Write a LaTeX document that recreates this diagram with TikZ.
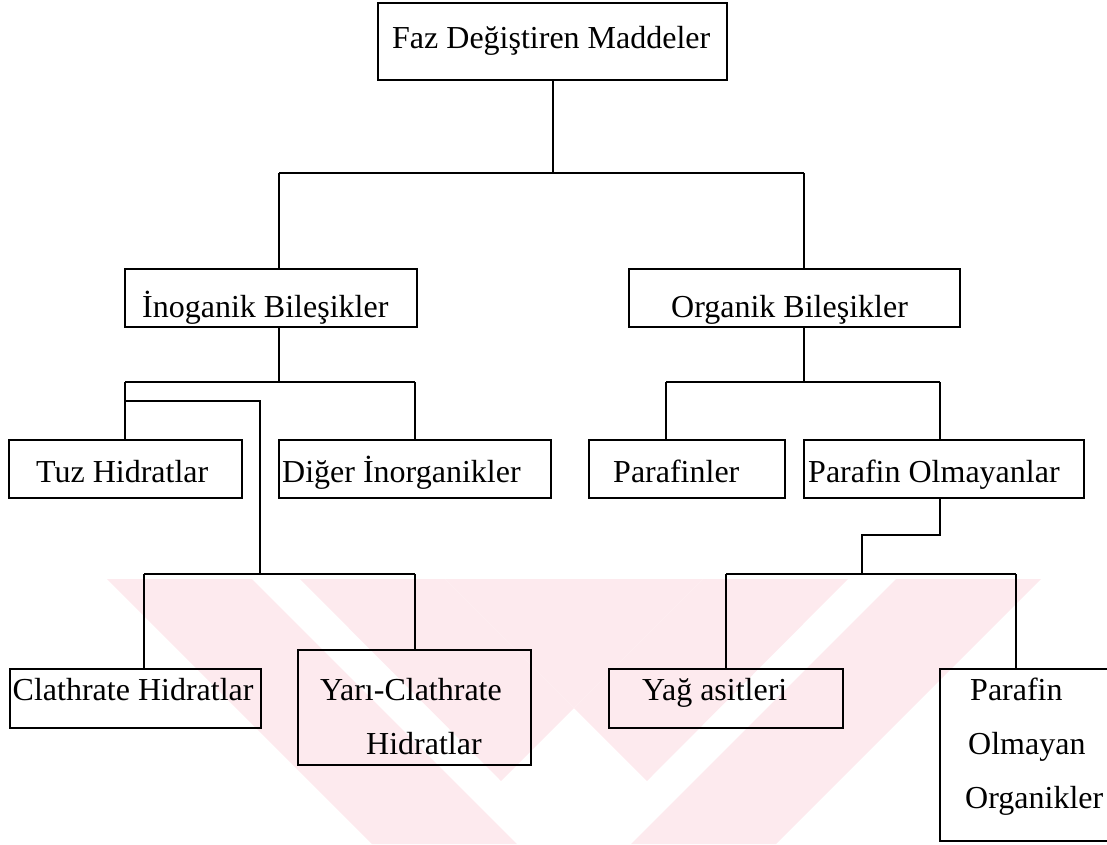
\documentclass[tikz,border=0pt]{standalone}
\usepackage{fontspec}
\setmainfont{Liberation Serif}
\definecolor{wm}{RGB}{253,234,238}
\tikzset{
  box/.style={draw, line width=2.2pt, anchor=north west, inner sep=0pt, minimum width=#1},
  box/.default=10pt,
  lbl/.style={anchor=base west, inner sep=0pt, font=\fontsize{32}{38}\selectfont},
  conn/.style={line width=1.9pt},
}
\begin{document}
\begin{tikzpicture}[x=1pt,y=-1pt]
\useasboundingbox (0,0) rectangle (1107,844);
% watermark
\begin{scope}
\clip (0,579) rectangle (1107,844);
\fill[wm] (107,579) -- (252,579) -- (517,844) -- (372,844) -- cycle;
\fill[wm] (300,579) -- (445,579) -- (574,708) -- (501,781) -- cycle;
\fill[wm] (1041,579) -- (896,579) -- (631,844) -- (776,844) -- cycle;
\fill[wm] (848,579) -- (703,579) -- (574,708) -- (647,781) -- cycle;
\fill[wm] (445,579) -- (703,579) -- (574,708) -- cycle;
\end{scope}
% boxes
\node[box=349pt, minimum height=77pt] (top) at (377,2) {};
\node[box=292pt, minimum height=58pt] (ino) at (124,268) {};
\node[box=331pt, minimum height=58pt] (org) at (628,268) {};
\node[box=233pt, minimum height=58pt] (tuz) at (8,439) {};
\node[box=272pt, minimum height=58pt] (dig) at (278,439) {};
\node[box=196pt, minimum height=58pt] (par) at (588,439) {};
\node[box=280pt, minimum height=58pt] (pol) at (803,439) {};
\node[box=251pt, minimum height=59pt] (cla) at (9,668) {};
\node[box=233pt, minimum height=115pt] (yar) at (297,649) {};
\node[box=234pt, minimum height=59pt] (yag) at (608,668) {};
\node[box=180pt, minimum height=172pt] (pao) at (939,668) {};
% labels
\node[lbl] (tTop) at (392,48) {Faz Değiştiren Maddeler};
\node[lbl] (tIno) at (142,317) {İnoganik Bileşikler};
\node[lbl] (tOrg) at (671,317) {Organik Bileşikler};
\node[lbl] (tTuz) at (36,482) {Tuz Hidratlar};
\node[lbl] (tDig) at (282,482) {Diğer İnorganikler};
\node[lbl] (tPar) at (613,482) {Parafinler};
\node[lbl] (tPol) at (808,482) {Parafin Olmayanlar};
\node[lbl] (tCla) at (12.5,700) {Clathrate Hidratlar};
\node[lbl] (tYa1) at (320,700) {Yarı-Clathrate};
\node[lbl] (tYa2) at (366,754) {Hidratlar};
\node[lbl] (tYag) at (642,700) {Yağ asitleri};
\node[lbl] (tPa1) at (970,700) {Parafin};
\node[lbl] (tPa2) at (968,754) {Olmayan};
\node[lbl] (tPa3) at (965,808) {Organikler};
% connector coordinates
\coordinate (b1l) at (279,173);
\coordinate (b1r) at (804,173);
\coordinate (b2l) at (125,382);
\coordinate (b2r) at (415,382);
\coordinate (k1) at (125,401);
\coordinate (k2) at (260,401);
\coordinate (b3l) at (144,574);
\coordinate (b3r) at (415,574);
\coordinate (b4l) at (666,382);
\coordinate (b4r) at (940,382);
\coordinate (k3) at (940,535);
\coordinate (k4) at (862,535);
\coordinate (b5l) at (726,574);
\coordinate (b5r) at (1016,574);
% connectors
\draw[conn] (top.south) -- (top.south |- b1l);
\draw[conn] (b1l) -- (b1r);
\draw[conn] (b1l) -- (b1l |- ino.north);
\draw[conn] (b1r) -- (b1r |- org.north);
\draw[conn] (b1l |- ino.south) -- (b1l |- b2l);
\draw[conn] (b2l) -- (b2r);
\draw[conn] (b2l) -- (b2l |- tuz.north);
\draw[conn] (b2r) -- (b2r |- dig.north);
\draw[conn] (k1) -- (k2) -- (k2 |- b3l);
\draw[conn] (b3l) -- (b3r);
\draw[conn] (b3l) -- (b3l |- cla.north);
\draw[conn] (b3r) -- (b3r |- yar.north);
\draw[conn] (b1r |- org.south) -- (b1r |- b4l);
\draw[conn] (b4l) -- (b4r);
\draw[conn] (b4l) -- (b4l |- par.north);
\draw[conn] (b4r) -- (b4r |- pol.north);
\draw[conn] (k3 |- pol.south) -- (k3) -- (k4) -- (k4 |- b5l);
\draw[conn] (b5l) -- (b5r);
\draw[conn] (b5l) -- (b5l |- yag.north);
\draw[conn] (b5r) -- (b5r |- pao.north);
\end{tikzpicture}
\end{document}
